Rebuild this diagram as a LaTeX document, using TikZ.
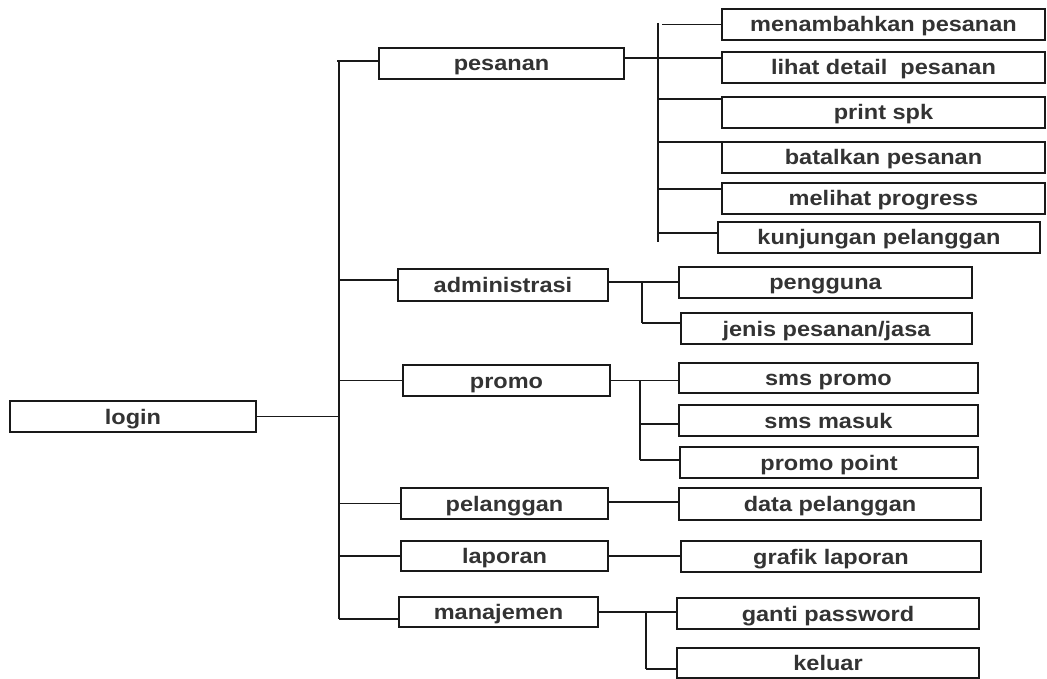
\documentclass[tikz,border=0pt]{standalone}
\usepackage{fontspec}
\setmainfont{Liberation Sans}[FakeStretch=1.12]
\begin{document}
\begin{tikzpicture}[x=1pt,y=-1pt,
  menu/.style={draw=black!90, line width=1.7pt, fill=white, inner sep=0pt,
    minimum height=31pt, font=\bfseries\fontsize{21}{24}\selectfont,
    text=black!80, text height=15pt, text depth=0pt},
  link/.style={draw=black!90, line width=1.7pt}]
\useasboundingbox (0,0) rectangle (1047,679);

% root
\node[menu, minimum width=246pt] (login) at (133,416.5) {login};

% first level
\node[menu, minimum width=245pt] (pes) at (501.5,63.5) {pesanan};
\node[menu, minimum width=210pt, minimum height=32pt] (adm) at (503,285) {administrasi};
\node[menu, minimum width=207pt] (pro) at (506.5,380.5) {promo};
\node[menu, minimum width=207pt] (pel) at (504.5,503.5) {pelanggan};
\node[menu, minimum width=207pt, minimum height=30pt] (lap) at (504.5,556) {laporan};
\node[menu, minimum width=199pt, minimum height=30pt] (man) at (498.5,612) {manajemen};

% pesanan submenu
\node[menu, minimum width=323pt] (m1) at (883.5,24.5) {menambahkan pesanan};
\node[menu, minimum width=323pt] (m2) at (883.5,67.5) {lihat detail\ \ pesanan};
\node[menu, minimum width=323pt] (m3) at (883.5,112.5) {print spk};
\node[menu, minimum width=323pt] (m4) at (883.5,157.5) {batalkan pesanan};
\node[menu, minimum width=323pt] (m5) at (883.5,198.5) {melihat progress};
\node[menu, minimum width=322pt] (m6) at (879,237.5) {kunjungan pelanggan};

% administrasi submenu
\node[menu, minimum width=293pt] (a1) at (825.5,282.5) {pengguna};
\node[menu, minimum width=291pt] (a2) at (826.5,328.5) {jenis pesanan/jasa};

% promo submenu
\node[menu, minimum width=299pt, minimum height=30pt] (p1) at (828.5,378) {sms promo};
\node[menu, minimum width=299pt] (p2) at (828.5,420.5) {sms masuk};
\node[menu, minimum width=298pt] (p3) at (829,462.5) {promo point};

% pelanggan, laporan, manajemen submenus
\node[menu, minimum width=302pt, minimum height=32pt] (c1) at (830,504) {data pelanggan};
\node[menu, minimum width=300pt] (l1) at (831,556.5) {grafik laporan};
\node[menu, minimum width=302pt] (g1) at (828,613.5) {ganti password};
\node[menu, minimum width=302pt, minimum height=30pt] (g2) at (828,663) {keluar};

% bus lines
\coordinate (spine) at (339,0);
\coordinate (pbus) at (658,0);
\coordinate (abus) at (642,0);
\coordinate (rbus) at (640,0);
\coordinate (gbus) at (646,0);

% main spine from login
\draw[link] (login.east) -- (spine |- login.east);
\draw[link] ([yshift=2.5pt]spine |- pes.west) -- ([yshift=-7pt]spine |- man.west);
\draw[link] ([xshift=-2pt,yshift=2.5pt]spine |- pes.west) -- ([yshift=2.5pt]pes.west);
\draw[link] ([yshift=5pt]spine |- adm.west) -- ([yshift=5pt]adm.west);
\draw[link] (spine |- pro.west) -- (pro.west);
\draw[link] (spine |- pel.west) -- (pel.west);
\draw[link] (spine |- lap.west) -- (lap.west);
\draw[link] ([yshift=-7pt]spine |- man.west) -- ([yshift=-7pt]man.west);

% pesanan branch
\draw[link] ([yshift=1.5pt]pbus |- m1.west) -- ([yshift=-4.5pt]pbus |- m6.west);
\draw[link] ([yshift=5.5pt]pes.east) -- ([yshift=9.5pt]m2.west);
\draw[link] ([xshift=4pt]pbus |- m1.west) -- (m1.west);
\draw[link] ([yshift=13.5pt]pbus |- m3.west) -- ([yshift=13.5pt]m3.west);
\draw[link] ([yshift=15.5pt]pbus |- m4.west) -- ([yshift=15.5pt]m4.west);
\draw[link] ([yshift=9.5pt]pbus |- m5.west) -- ([yshift=9.5pt]m5.west);
\draw[link] ([yshift=4.5pt]pbus |- m6.west) -- ([yshift=4.5pt]m6.west);

% administrasi branch
\draw[link] ([yshift=3pt]adm.east) -- ([yshift=0.5pt]a1.west);
\draw[link] ([yshift=3pt]abus |- adm.east) -- ([yshift=5.5pt]abus |- a2.west);
\draw[link] ([yshift=5.5pt]abus |- a2.west) -- ([yshift=5.5pt]a2.west);

% promo branch
\draw[link] (pro.east) -- (pro.east -| p1.west);
\draw[link] (rbus |- pro.east) -- ([yshift=2.5pt]rbus |- p3.west);
\draw[link] ([yshift=-3.5pt]rbus |- p2.west) -- ([yshift=-3.5pt]p2.west);
\draw[link] ([yshift=2.5pt]rbus |- p3.west) -- ([yshift=2.5pt]p3.west);

% single-child branches
\draw[link] ([yshift=1.5pt]pel.east) -- ([yshift=1.5pt]pel.east -| c1.west);
\draw[link] (lap.east) -- (lap.east -| l1.west);

% manajemen branch
\draw[link] (man.east) -- (man.east -| g1.west);
\draw[link] (gbus |- man.east) -- ([yshift=-6pt]gbus |- g2.west);
\draw[link] ([yshift=-6pt]gbus |- g2.west) -- ([yshift=-6pt]g2.west);
\end{tikzpicture}
\end{document}
